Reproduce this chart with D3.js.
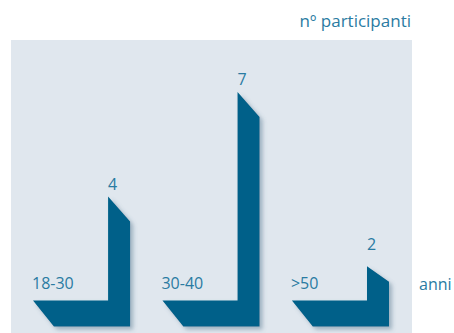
<!DOCTYPE html>
<html>
<head>
<meta charset="utf-8">
<script src="https://cdn.jsdelivr.net/npm/d3@7"></script>
<style>
  html, body { margin: 0; padding: 0; background: #ffffff; }
  svg { display: block; }
  text { font-family: "Open Sans", "Noto Sans", sans-serif; fill: #2a7ba2; }
</style>
</head>
<body>
<svg id="chart" width="454" height="333"></svg>
<script>
// Participants per age group
const categories = ["18-30", "30-40", ">50"];
const values = [4, 7, 2];
const valueTitle = "nº participanti";
const categoryTitle = "anni";

const svg = d3.select("#chart");
const W = 454, H = 333;

// panel background
svg.append("rect")
  .attr("x", 11).attr("y", 40)
  .attr("width", 401).attr("height", H - 40)
  .attr("fill", "#e0e7ee");

// soft drop shadow for the L-shaped marks
const defs = svg.append("defs");
const f = defs.append("filter").attr("id", "shadow")
  .attr("x", "-20%").attr("y", "-20%").attr("width", "150%").attr("height", "150%");
f.append("feDropShadow")
  .attr("dx", 3).attr("dy", 3).attr("stdDeviation", 2.2)
  .attr("flood-color", "#4a6f88").attr("flood-opacity", 0.45);

const x = d3.scaleBand()
  .domain(categories)
  .range([33, 389])
  .paddingInner(0.25)
  .paddingOuter(0);

const y = d3.scaleLinear()
  .domain([0, 7])
  .range([336, 92]);

const baseBottom = 326.5;   // bottom edge of the horizontal foot
const baseThick = 26;        // thickness of the foot
const barW = 22;             // width of the vertical stem
const inner = baseBottom - baseThick;

// bevel height at the top of each stem (shorter stems get a shallower cut)
const tipCut = d => Math.min(25, (inner - y(d)) * 0.45);

function lShape(d, i) {
  const x0 = x(categories[i]);
  const x1 = x0 + x.bandwidth();
  const sx = x1 - barW;
  const top = y(d);
  const p = d3.path();
  p.moveTo(x0, inner);
  p.lineTo(sx, inner);
  p.lineTo(sx, top);
  p.lineTo(x1, top + tipCut(d));
  p.lineTo(x1, baseBottom);
  p.lineTo(x0 + barW * 0.95, baseBottom);
  p.closePath();
  return p.toString();
}

const g = svg.append("g");

g.selectAll("path.mark")
  .data(values)
  .join("path")
  .attr("class", "mark")
  .attr("d", (d, i) => lShape(d, i))
  .attr("fill", "#006189")
  .attr("filter", "url(#shadow)");

// value labels above each stem
g.selectAll("text.val")
  .data(values)
  .join("text")
  .attr("class", "val")
  .attr("x", (d, i) => x(categories[i]) + x.bandwidth() - barW)
  .attr("y", d => y(d) + tipCut(d) - 32)
  .attr("font-size", 16)
  .text(d => d);

// category labels on each foot
g.selectAll("text.cat")
  .data(categories)
  .join("text")
  .attr("class", "cat")
  .attr("x", d => x(d) - 1)
  .attr("y", 289)
  .attr("font-size", 16)
  .text(d => d);

svg.append("text")
  .attr("x", 411).attr("y", 27)
  .attr("text-anchor", "end")
  .attr("font-size", 17)
  .text(valueTitle);

svg.append("text")
  .attr("x", 419).attr("y", 290)
  .attr("font-size", 16)
  .text(categoryTitle);
</script>
</body>
</html>
